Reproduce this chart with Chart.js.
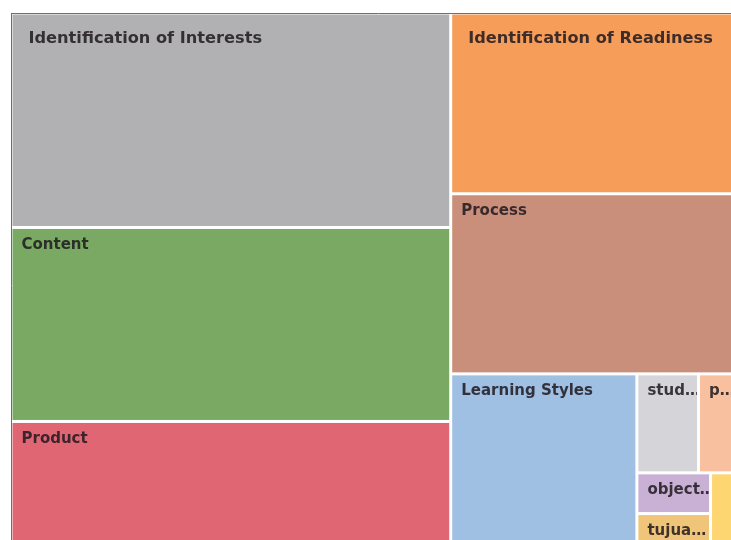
<!DOCTYPE html>
<html><head><meta charset="utf-8">
<script src="https://cdn.jsdelivr.net/npm/chart.js@4.4.1/dist/chart.umd.min.js"></script>
<style>
html,body{margin:0;padding:0;background:#fff;overflow:hidden;width:731px;height:540px}
#wrap{position:absolute;left:0;top:0;width:760px;height:570px}
</style>
</head><body>
<div id="wrap"><canvas id="c" width="760" height="570"></canvas></div>
<script>
// Cell labels (as displayed, truncated labels kept as shown)
const categories = ['Identification of Interests','Content','Product','Identification of Readiness','Process','Learning Styles','stud\u2026','p\u2026','object\u2026','tujua\u2026',''];
// Cell sizes (relative areas, thousands)
const values = [94.3, 85.3, 59.6, 53.2, 53.0, 34.1, 6.1, 4.6, 3.0, 3.2, 2.9];
// Hierarchy of cells (indices into categories), laid out slice-and-dice
const tree = [[0,1,2],[3,4,[5,[[6,7],[[8,9],10]]]]];
const colors = ['#b1b1b3','#79a963','#e06673','#f69d5a','#c98f7b','#9fbfe3','#d5d5d9','#f8c09e','#c9b1d6','#f0c57a','#fdd672'];

function nodeSum(node){ return typeof node === 'number' ? values[node] : node.reduce((a,n)=>a+nodeSum(n),0); }
function layout(node,x0,y0,x1,y1,depth,out){
  if (typeof node === 'number'){ out.push({i:node,x0,y0,x1,y1}); return; }
  const total = nodeSum(node);
  let pos = depth%2===0 ? x0 : y0;
  node.forEach(ch=>{
    const f = nodeSum(ch)/total;
    if (depth%2===0){ const w=(x1-x0)*f; layout(ch,pos,y0,pos+w,y1,depth+1,out); pos+=w; }
    else { const h=(y1-y0)*f; layout(ch,x0,pos,x1,pos+h,depth+1,out); pos+=h; }
  });
}

const treemapPlugin = {
  id:'treemapCells',
  beforeDatasetsDraw(chart){
    const {ctx, scales:{x,y}} = chart;
    const cells=[]; layout(tree,0,0,1,1,0,cells);
    const gap=1.5;
    cells.forEach(c=>{
      const L=x.getPixelForValue(c.x0)+gap, R=x.getPixelForValue(c.x1)-gap;
      const T=y.getPixelForValue(c.y0)+gap, B=y.getPixelForValue(c.y1)-gap;
      ctx.save();
      ctx.fillStyle=colors[c.i];
      ctx.fillRect(L,T,R-L,B-T);
      const lab=categories[c.i];
      if (lab){
        const top = c.y0===0;
        ctx.beginPath(); ctx.rect(L,T,R-L,B-T); ctx.clip();
        ctx.font = `bold ${top?16.2:15}px "DejaVu Sans"`;
        ctx.fillStyle='rgba(32,26,32,0.86)';
        ctx.textBaseline='alphabetic';
        ctx.fillText(lab, L+(top?16:9), T+(top?28:20));
      }
      ctx.restore();
    });
  }
};

const axisOpts = (pos, reverse)=>({
  type:'linear', position:pos, min:0, max:1, reverse:reverse,
  ticks:{display:false}, grid:{display:false, drawTicks:false},
  border:{display:true, color:'#6e6e6e', width:1}, title:{display:false}
});

new Chart(document.getElementById('c'),{
  type:'scatter',
  data:{datasets:[{data:[], pointRadius:0}]},
  options:{
    responsive:false, devicePixelRatio:1, animation:false,
    layout:{padding:{left:11,top:13,right:15,bottom:13}},
    plugins:{legend:{display:false}, tooltip:{enabled:false}},
    scales:{ x:axisOpts('top',false), y:axisOpts('left',true) }
  },
  plugins:[treemapPlugin]
});
</script>
</body></html>
